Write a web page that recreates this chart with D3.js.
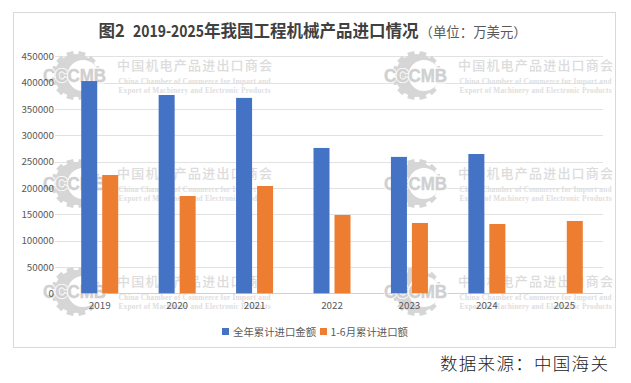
<!DOCTYPE html>
<html><head><meta charset="utf-8">
<style>html,body{margin:0;padding:0;background:#fff}svg{display:block}</style>
<script src="https://cdnjs.cloudflare.com/ajax/libs/d3/7.8.5/d3.min.js"></script>
</head><body><div id="c"></div>
<script>
const years=["2019","2020","2021","2022","2023","2024","2025"];
const fullYear=[403000,376500,371000,276000,259000,264500,null];
const firstHalf=[224600,184700,203700,148700,133500,131600,137300];
const ticks=[0,50000,100000,150000,200000,250000,300000,350000,400000,450000];
const seriesNames=["全年累计进口金额","1-6月累计进口额"];
const colors=["#4472c4","#ed7d31"];
const W=631,H=383;
const sans='"Noto Sans CJK SC","Liberation Sans",sans-serif';
const svg=d3.select("#c").append("svg").attr("width",W).attr("height",H);
svg.append("rect").attr("x",13.5).attr("y",12.5).attr("width",602).attr("height",335).attr("fill","#fff").attr("stroke","#d9d9d9").attr("stroke-width",1);
const y=d3.scaleLinear().domain([0,450000]).range([293.3,56.3]);
const x=d3.scaleBand().domain(years).range([61,603]);
const xs=d3.scaleBand().domain([0,1]).range([-18.5,18.5]).paddingInner(0.238);
// gridlines
svg.append("g").selectAll("line").data(ticks).join("line")
 .attr("x1",55).attr("x2",603).attr("y1",d=>Math.round(y(d))+.5).attr("y2",d=>Math.round(y(d))+.5)
 .attr("stroke",d=>d===0?"#d0d0d0":"#e2e2e2").attr("stroke-width",1);
// watermarks
const wm=svg.append("g");
const wmCols=[0,341],wmRows=[0,108,216];
const gear=d3.arc();
wmCols.forEach(dx=>wmRows.forEach(dy=>{
 const g=wm.append("g").attr("transform",`translate(${dx},${dy})`);
 const cx=76,cy=75.5;
 d3.range(15,360,30).forEach(a=>{
  if(a>80&&a<110)return;
  g.append("rect").attr("x",cx-3.5).attr("y",cy-24.5).attr("width",7).attr("height",6).attr("fill","#d6d6d6")
   .attr("transform",`rotate(${a} ${cx} ${cy})`);
 });
 g.append("path").attr("transform",`translate(${cx},${cy})`)
  .attr("d",gear({innerRadius:0,outerRadius:21.5,startAngle:0,endAngle:Math.PI*2})).attr("fill","#d6d6d6");
 g.append("circle").attr("cx",cx+7).attr("cy",cy).attr("r",15.5).attr("fill","#fff");
 g.append("rect").attr("x",cx+14).attr("y",cy-8).attr("width",14).attr("height",16).attr("fill","#fff");
 const logoText=(s,w)=>g.append("text").attr("x",43).attr("y",82).attr("font-family",'"Liberation Sans"').attr("font-weight",700).attr("font-size",19).attr("textLength",63).attr("lengthAdjust","spacingAndGlyphs").attr("fill","#d0d0d0").attr("stroke",s).attr("stroke-width",w).text("CCCMB");
 logoText("#fff",2.2);
 logoText("#d0d0d0",.4);
 g.append("text").attr("x",117).attr("y",70).attr("font-family",sans).attr("font-size",13).attr("font-weight",500).attr("textLength",155).attr("fill","#dcdcdc").text("中国机电产品进出口商会");
 g.append("text").attr("x",118.5).attr("y",83.5).attr("font-family",'"Liberation Serif"').attr("font-weight",700).attr("font-size",7.3).attr("textLength",152).attr("fill","#dedede").text("China Chamber of Commerce for Import and");
 g.append("text").attr("x",118.5).attr("y",92.5).attr("font-family",'"Liberation Serif"').attr("font-weight",700).attr("font-size",7.3).attr("textLength",152).attr("fill","#dedede").text("Export of Machinery and Electronic Products");
}));
// bars
[fullYear,firstHalf].forEach((vals,i)=>{
 svg.append("g").selectAll("rect").data(years.map((c,k)=>({c,v:vals[k]})).filter(d=>d.v!=null)).join("rect")
  .attr("x",d=>x(d.c)+x.bandwidth()/2+xs(i))
  .attr("width",xs.bandwidth())
  .attr("y",d=>y(d.v)).attr("height",d=>y(0)-y(d.v)).attr("fill",colors[i]);
});
// axes
const yAxis=d3.axisLeft(y).tickValues(ticks).tickSize(0).tickPadding(0).tickFormat(d3.format("d"));
const ya=svg.append("g").attr("transform","translate(54,0)").call(yAxis);
ya.select(".domain").remove();
ya.selectAll("text").attr("font-family",sans).attr("font-size",9.8).attr("fill","#595959");
const xAxis=d3.axisBottom(x).tickSize(0).tickPadding(0);
const xa=svg.append("g").attr("transform","translate(0,302)").call(xAxis);
xa.select(".domain").remove();
xa.selectAll("text").attr("font-family",sans).attr("font-size",9.8).attr("fill","#595959");
// title
const titleParts=[
 {s:"图2",x:98.5,size:16.5,w:700,c:"#404040"},
 {s:"2019-2025",x:133,size:16.5,w:700,c:"#404040",len:71},
 {s:"年我国工程机械产品进口情况",x:204,size:16.5,w:700,c:"#404040"},
 {s:"（单位：万美元）",x:419.6,size:13.4,w:400,c:"#595959"}];
svg.append("g").selectAll("text").data(titleParts).join("text")
 .attr("x",d=>d.x).attr("y",37).attr("font-family",sans).attr("font-size",d=>d.size).attr("font-weight",d=>d.w).attr("fill",d=>d.c)
 .each(function(d){if(d.len)d3.select(this).attr("textLength",d.len).attr("lengthAdjust","spacingAndGlyphs");})
 .text(d=>d.s);
// legend
const lg=svg.append("g");
[[222,233],[320,330.5]].forEach(([sx,tx],i)=>{
 lg.append("rect").attr("x",sx).attr("y",328).attr("width",7).attr("height",7).attr("fill",colors[i]);
 lg.append("text").attr("x",tx).attr("y",335.5).attr("font-family",sans).attr("font-size",10.4).attr("fill","#595959").text(seriesNames[i]);
});
// source
svg.append("text").attr("x",440).attr("y",370).attr("font-family",'"Noto Sans CJK SC"').attr("font-size",17.5).attr("font-weight",300).attr("letter-spacing",1.3).attr("fill","#222").text("数据来源：中国海关");
</script></body></html>
